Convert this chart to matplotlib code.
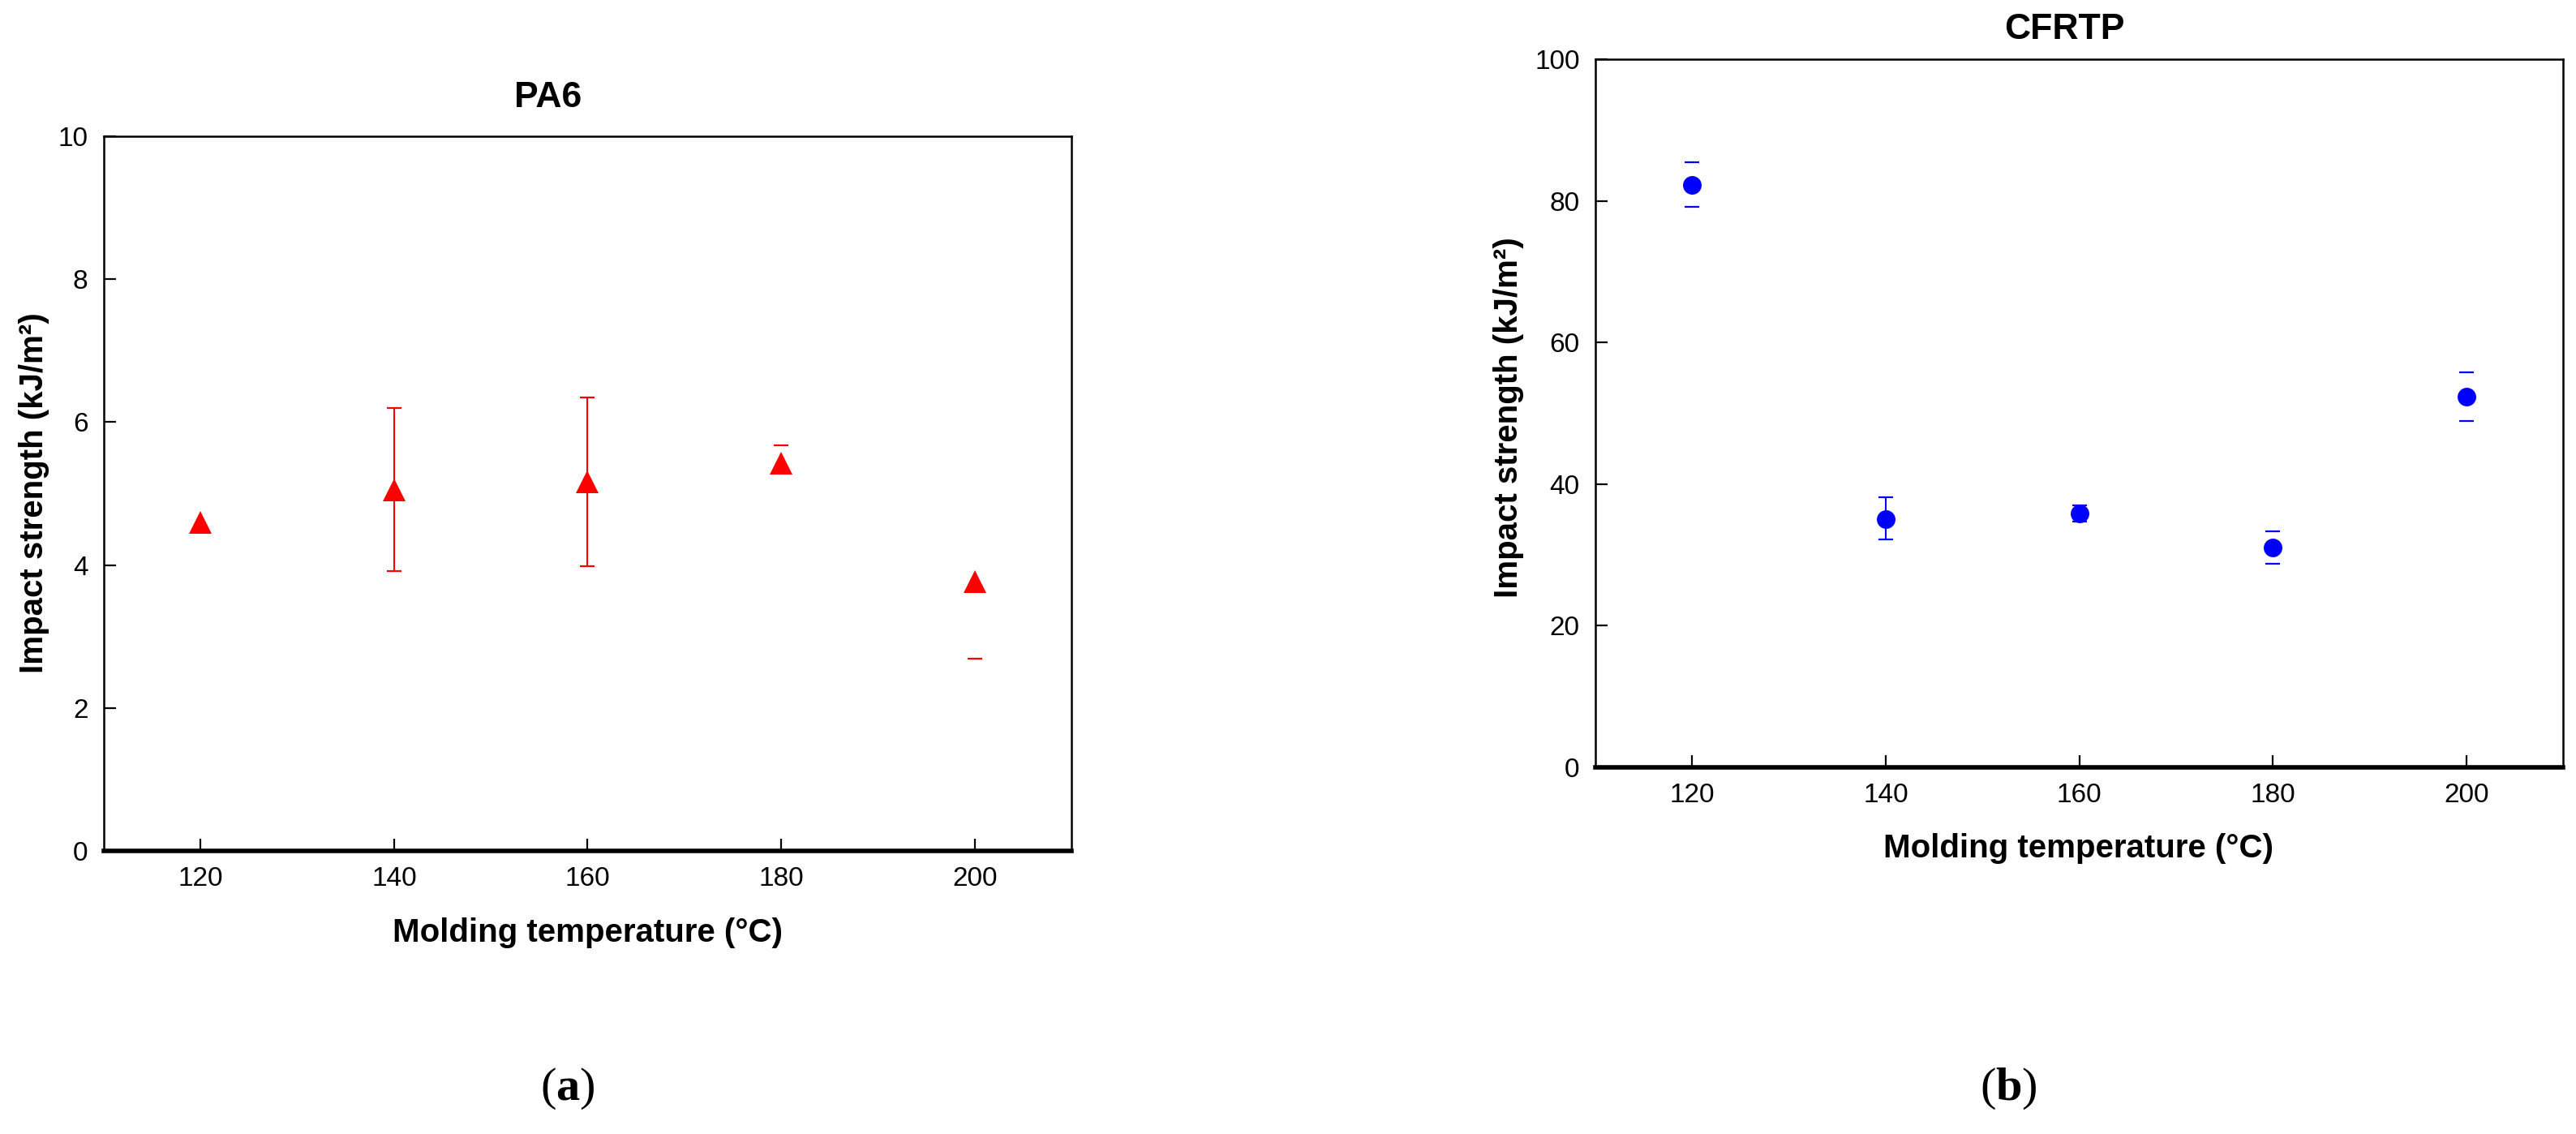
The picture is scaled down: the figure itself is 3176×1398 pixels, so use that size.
import matplotlib
matplotlib.use("Agg")
import matplotlib.pyplot as plt
import numpy as np

# ---------------- data ----------------
temps = [120, 140, 160, 180, 200]
x_ticks = [120, 140, 160, 180, 200]

pa6_mean = [4.60, 5.05, 5.17, 5.43, 3.77]
pa6_err_low = [0.12, 1.13, 1.19, 0.0, 1.08]
pa6_err_high = [0.0, 1.15, 1.18, 0.25, 0.0]
pa6_yticks = [0, 2, 4, 6, 8, 10]

cf_mean = [82.2, 35.1, 35.9, 31.0, 52.4]
cf_err_low = [3.0, 2.9, 1.2, 2.3, 3.5]
cf_err_high = [3.2, 3.0, 1.1, 2.3, 3.4]
cf_yticks = [0, 20, 40, 60, 80, 100]

xlabel = "Molding temperature (°C)"
ylabel = "Impact strength (kJ/m²)"

# ---------------- style ----------------
plt.rcParams['font.family'] = ['Liberation Sans', 'DejaVu Sans']
plt.rcParams['mathtext.fontset'] = 'custom'
plt.rcParams['mathtext.rm'] = 'Liberation Serif'
plt.rcParams['mathtext.bf'] = 'Liberation Serif:bold'

W, H = 3176, 1398
fig = plt.figure(figsize=(W / 100, H / 100), dpi=100)
fig.patch.set_facecolor('white')


def fx(px):
    return px / W


def fy(py):
    return 1 - py / H


def make_axes(l, t, r, b):
    return fig.add_axes([fx(l), fy(b), fx(r) - fx(l), fy(t) - fy(b)])


def style_axes(ax, ylim, yticks):
    ax.set_xlim(110, 210)
    ax.set_ylim(*ylim)
    ax.set_xticks(x_ticks)
    ax.set_yticks(yticks)
    ax.set_facecolor('none')
    for s in ['top', 'right', 'left']:
        ax.spines[s].set_linewidth(1.8)
    ax.spines['bottom'].set_linewidth(4.0)
    ax.tick_params(direction='in', length=11, width=1.6, labelsize=24,
                   top=False, right=False)
    ax.tick_params(axis='x', pad=14)
    ax.tick_params(axis='y', pad=14)


def draw_series(ax, y, lo, hi, color, marker, ms, line_vis):
    eb = ax.errorbar(temps, y, yerr=[lo, hi], fmt='none', ecolor=color,
                     elinewidth=1.5, capsize=6.5, capthick=1.6, zorder=2)
    eb[2][0].set_linewidths([1.5 * v for v in line_vis])
    # hide caps for zero-length error sides
    low_cap, high_cap = eb[1]
    yl = [m - e if e > 0 else np.nan for m, e in zip(y, lo)]
    yh = [m + e if e > 0 else np.nan for m, e in zip(y, hi)]
    low_cap.set_data(temps, yl)
    high_cap.set_data(temps, yh)
    ax.plot(temps, y, linestyle='none', marker=marker, ms=ms, color=color,
            markeredgewidth=0, zorder=3)


# ---- panel (a) PA6 ----
ax1 = make_axes(128, 168, 1321, 1049)
style_axes(ax1, (0, 10), pa6_yticks)
draw_series(ax1, pa6_mean, pa6_err_low, pa6_err_high, '#ff0000', '^', 20,
            [0, 1, 1, 0, 0])
fig.text(fx(676), fy(120), "PA6", fontsize=32, fontweight='bold',
         ha='center', va='center')
fig.text(fx(724), fy(1150), xlabel, fontsize=29, fontweight='bold',
         ha='center', va='center')
fig.text(fx(42), fy(608), ylabel, fontsize=29, fontweight='bold',
         ha='center', va='center', rotation=90)
fig.text(fx(700), fy(1342), r'$(\mathbf{a})$', fontsize=42,
         ha='center', va='center')

# ---- panel (b) CFRTP ----
ax2 = make_axes(1967, 73, 3160, 946)
style_axes(ax2, (0, 100), cf_yticks)
draw_series(ax2, cf_mean, cf_err_low, cf_err_high, '#0000ff', 'o', 16.5,
            [0, 1, 1, 0, 0])
fig.text(fx(2545), fy(36), "CFRTP", fontsize=32, fontweight='bold',
         ha='center', va='center')
fig.text(fx(2563), fy(1046), xlabel, fontsize=29, fontweight='bold',
         ha='center', va='center')
fig.text(fx(1860), fy(515), ylabel, fontsize=29, fontweight='bold',
         ha='center', va='center', rotation=90)
fig.text(fx(2476), fy(1342), r'$(\mathbf{b})$', fontsize=42,
         ha='center', va='center')

fig.savefig("out.png", dpi=100, facecolor='white')
